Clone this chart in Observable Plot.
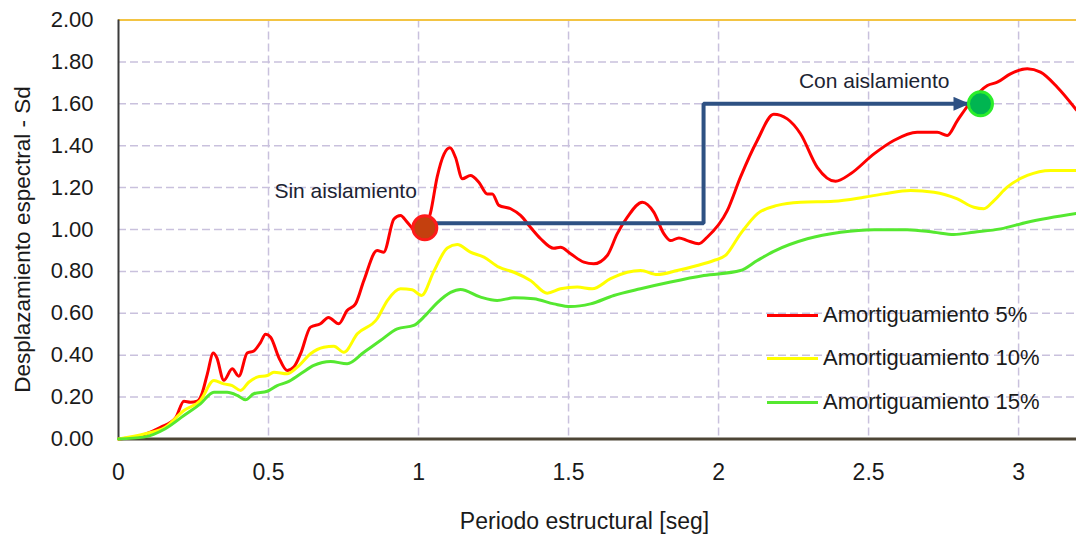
<!DOCTYPE html>
<html><head><meta charset="utf-8">
<script src="https://cdn.jsdelivr.net/npm/d3@7"></script>
<script src="https://cdn.jsdelivr.net/npm/@observablehq/plot@0.6"></script>
<style>
html,body{margin:0;padding:0;background:#fff;}
#wrap{position:relative;width:1076px;height:539px;overflow:hidden;}
#legend{position:absolute;left:767px;top:0;font-family:"Liberation Sans",Arial,sans-serif;font-size:22px;color:#1a1a1a;}
.row{position:absolute;left:0;display:flex;align-items:center;white-space:nowrap;height:30px;}
.sw{width:51px;height:3px;margin-right:5px;}
</style></head>
<body><div id="wrap"></div>
<script>
// ---- data ----
const seriesNames = ["Amortiguamiento 5%", "Amortiguamiento 10%", "Amortiguamiento 15%"];
const amort5 = [[0,0],[0.083,0.02],[0.14,0.056],[0.19,0.10],[0.218,0.18],[0.24,0.175],[0.262,0.18],[0.279,0.22],[0.296,0.31],[0.316,0.41],[0.327,0.39],[0.351,0.28],[0.379,0.335],[0.401,0.30],[0.429,0.41],[0.451,0.42],[0.473,0.46],[0.49,0.50],[0.507,0.486],[0.534,0.39],[0.562,0.327],[0.584,0.343],[0.607,0.407],[0.64,0.534],[0.673,0.55],[0.70,0.58],[0.734,0.55],[0.762,0.613],[0.79,0.645],[0.818,0.757],[0.862,0.90],[0.884,0.892],[0.918,1.05],[0.94,1.067],[0.962,1.035],[0.996,0.987],[1.02,1.0],[1.04,1.08],[1.062,1.25],[1.085,1.36],[1.105,1.39],[1.123,1.345],[1.146,1.242],[1.173,1.258],[1.201,1.226],[1.229,1.17],[1.246,1.17],[1.268,1.115],[1.307,1.099],[1.34,1.067],[1.373,1.011],[1.407,0.956],[1.451,0.91],[1.473,0.915],[1.507,0.884],[1.551,0.844],[1.584,0.836],[1.629,0.876],[1.662,0.979],[1.696,1.059],[1.746,1.13],[1.784,1.083],[1.818,0.979],[1.84,0.947],[1.868,0.96],[1.896,0.947],[1.934,0.932],[1.962,0.963],[2.029,1.09],[2.073,1.25],[2.129,1.425],[2.184,1.55],[2.229,1.528],[2.273,1.457],[2.329,1.297],[2.39,1.23],[2.44,1.266],[2.518,1.361],[2.584,1.425],[2.662,1.464],[2.729,1.464],[2.762,1.449],[2.796,1.52],[2.84,1.608],[2.896,1.687],[2.929,1.703],[2.973,1.743],[3.029,1.767],[3.073,1.751],[3.129,1.679],[3.193,1.57]];
const amort10 = [[0,0],[0.089,0.025],[0.156,0.056],[0.218,0.136],[0.273,0.184],[0.318,0.279],[0.351,0.263],[0.379,0.255],[0.407,0.232],[0.434,0.271],[0.462,0.295],[0.496,0.303],[0.518,0.319],[0.562,0.311],[0.596,0.343],[0.64,0.407],[0.684,0.438],[0.718,0.443],[0.751,0.414],[0.796,0.502],[0.862,0.574],[0.896,0.661],[0.94,0.717],[0.979,0.712],[1.01,0.685],[1.051,0.80],[1.096,0.912],[1.129,0.928],[1.173,0.892],[1.218,0.868],[1.268,0.82],[1.318,0.796],[1.373,0.757],[1.429,0.696],[1.473,0.717],[1.529,0.725],[1.579,0.717],[1.64,0.765],[1.696,0.796],[1.74,0.804],[1.796,0.785],[1.862,0.804],[1.929,0.828],[1.984,0.852],[2.023,0.876],[2.073,0.979],[2.129,1.075],[2.196,1.115],[2.273,1.13],[2.384,1.135],[2.484,1.154],[2.551,1.17],[2.64,1.186],[2.718,1.178],[2.796,1.146],[2.851,1.106],[2.884,1.099],[2.918,1.138],[2.962,1.202],[3.029,1.258],[3.107,1.282],[3.193,1.282]];
const amort15 = [[0,0],[0.084,0.009],[0.156,0.049],[0.218,0.112],[0.273,0.168],[0.318,0.223],[0.362,0.223],[0.396,0.208],[0.423,0.187],[0.451,0.216],[0.496,0.228],[0.529,0.255],[0.562,0.271],[0.607,0.311],[0.651,0.351],[0.707,0.37],[0.762,0.359],[0.818,0.414],[0.873,0.47],[0.929,0.526],[0.984,0.542],[1.023,0.59],[1.062,0.65],[1.107,0.70],[1.14,0.714],[1.207,0.677],[1.262,0.661],[1.318,0.674],[1.384,0.669],[1.451,0.645],[1.507,0.632],[1.573,0.645],[1.651,0.685],[1.74,0.717],[1.84,0.749],[1.951,0.78],[2.073,0.804],[2.129,0.852],[2.184,0.896],[2.296,0.956],[2.407,0.987],[2.518,0.999],[2.629,0.999],[2.718,0.987],[2.784,0.976],[2.851,0.987],[2.94,1.003],[3.029,1.035],[3.193,1.077]];
const xTicks = [0, 0.5, 1, 1.5, 2, 2.5, 3];
const yTicks = [0, 0.2, 0.4, 0.6, 0.8, 1.0, 1.2, 1.4, 1.6, 1.8, 2.0];
const xLabel = "Periodo estructural [seg]";
const yLabel = "Desplazamiento espectral - Sd";
// annotation points: [period, Sd]
const sinAislamiento = {label: "Sin aislamiento", p: [1.021, 1.008]};
const conAislamiento = {label: "Con aislamiento", p: [2.873, 1.60]};
// step path from "sin" to "con"
const stepPath = [[1.021, 1.03], [1.95, 1.03], [1.95, 1.60], [2.833, 1.60]];

// ---- styles ----
const FONT = '"Liberation Sans", Arial, Helvetica, sans-serif';
const seriesColors = ["#FF0000", "#FFFF00", "#55E830"];
const gridStyle = {stroke: "#c9c1dd", strokeOpacity: 1, strokeWidth: 1.5, strokeDasharray: "8,4"};

const series = [amort5, amort10, amort15];

function arrowHead(color) {
  const ns = "http://www.w3.org/2000/svg";
  const m = document.createElementNS(ns, "marker");
  m.setAttribute("viewBox", "0 0 16 14");
  m.setAttribute("markerUnits", "userSpaceOnUse");
  m.setAttribute("markerWidth", 16);
  m.setAttribute("markerHeight", 14);
  m.setAttribute("refX", 15);
  m.setAttribute("refY", 7);
  m.setAttribute("orient", "auto");
  const p = document.createElementNS(ns, "path");
  p.setAttribute("d", "M0,0L16,7L0,14Z");
  p.setAttribute("fill", color);
  p.setAttribute("stroke", "none");
  m.appendChild(p);
  return m;
}

let pathMark;
try {
  pathMark = Plot.line(stepPath, {x: d => d[0], y: d => d[1], stroke: "#2E5183", strokeWidth: 4, strokeLinejoin: "miter", markerEnd: arrowHead});
} catch (e) {
  pathMark = Plot.line(stepPath, {x: d => d[0], y: d => d[1], stroke: "#2E5183", strokeWidth: 4, strokeLinejoin: "miter"});
}

const chart = Plot.plot({
  width: 1076, height: 539,
  marginLeft: 118, marginRight: 0, marginTop: 19.5, marginBottom: 100.5,
  x: {domain: [0, 3.193]},
  y: {domain: [0, 2]},
  style: {fontFamily: FONT, background: "#fff", overflow: "visible", color: "#1a1a1a"},
  marks: [
    Plot.gridX(xTicks.filter(d => d > 0), gridStyle),
    Plot.gridY(yTicks.filter(d => d > 0 && d < 2), gridStyle),
    Plot.ruleY([2], {stroke: "#F3C443", strokeWidth: 2}),
    Plot.ruleX([0], {stroke: "#3b3b3b", strokeWidth: 2}),
    Plot.ruleY([0], {stroke: "#4d4535", strokeWidth: 3}),
    Plot.axisY(yTicks, {tickSize: 0, tickPadding: 25, tickFormat: d => d.toFixed(2), fontSize: 22, fill: "#1a1a1a", label: null}),
    Plot.axisX(xTicks, {tickSize: 0, tickPadding: 25, tickFormat: d => String(d), fontSize: 23, fill: "#1a1a1a", label: null}),
    ...series.map((s, i) => Plot.line(s, {x: d => d[0], y: d => d[1], stroke: seriesColors[i], strokeWidth: 3, curve: "monotone-x"})),
    pathMark,
    Plot.dot([sinAislamiento.p], {x: d => d[0], y: d => d[1], r: 12, fill: "#C4400E", stroke: "#FF1A1A", strokeWidth: 3}),
    Plot.dot([conAislamiento.p], {x: d => d[0], y: d => d[1], r: 12, fill: "#00B551", stroke: "#2BEE2B", strokeWidth: 3}),
    Plot.text([sinAislamiento], {x: d => d.p[0], y: d => d.p[1], text: d => d.label, textAnchor: "end", lineAnchor: "bottom", dx: -8, dy: -30, fontSize: 21, fill: "#1c2433"}),
    Plot.text([conAislamiento], {x: d => d.p[0], y: d => d.p[1], text: d => d.label, textAnchor: "end", lineAnchor: "bottom", dx: -31, dy: -16, fontSize: 21, fill: "#1c2433"}),
    Plot.text([yLabel], {text: d => d, frameAnchor: "left", dx: -96, dy: 10, rotate: -90, textAnchor: "middle", lineAnchor: "middle", fontSize: 22.5, fill: "#1a1a1a"}),
    Plot.text([xLabel], {text: d => d, frameAnchor: "bottom", dx: -13, dy: 89.5, textAnchor: "middle", lineAnchor: "bottom", fontSize: 23, fill: "#1a1a1a"})
  ]
});

const wrap = document.getElementById("wrap");
wrap.appendChild(chart);

// legend (inside plot area, HTML overlay)
const legend = document.createElement("div");
legend.id = "legend";
const rowCenters = [315, 358, 402];
seriesNames.forEach((name, i) => {
  const row = document.createElement("div");
  row.className = "row";
  row.style.top = (rowCenters[i] - 15) + "px";
  const sw = document.createElement("div");
  sw.className = "sw";
  sw.style.background = seriesColors[i];
  const t = document.createElement("span");
  t.textContent = name;
  row.appendChild(sw);
  row.appendChild(t);
  legend.appendChild(row);
});
wrap.appendChild(legend);
</script>
</body></html>
